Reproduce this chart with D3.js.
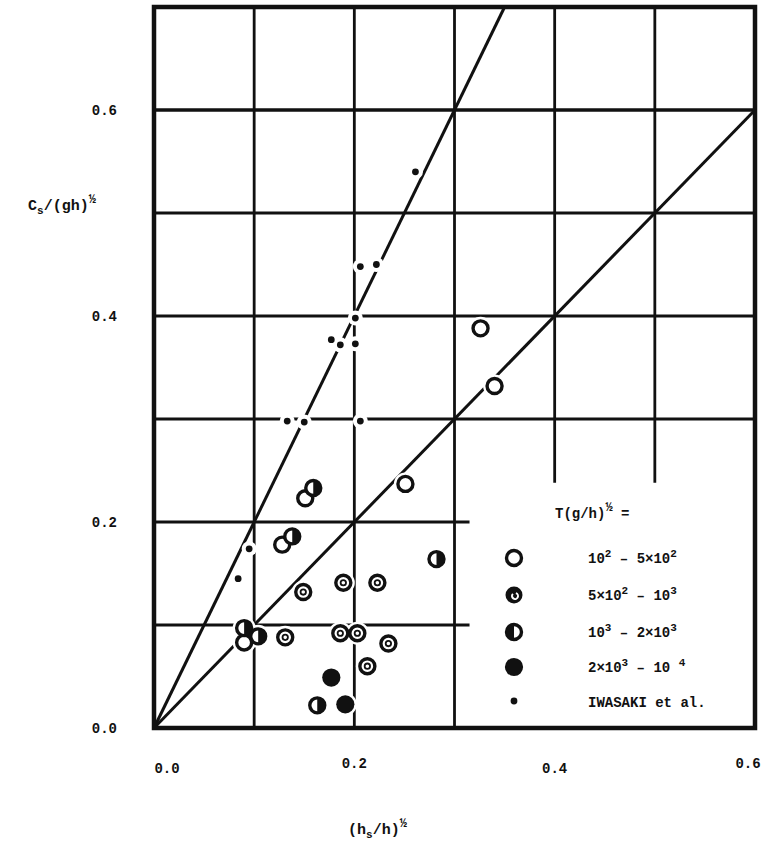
<!DOCTYPE html>
<html lang="en">
<head>
<meta charset="UTF-8">
<title>Cs/(gh)^1/2 vs (hs/h)^1/2</title>
<script src="https://d3js.org/d3.v7.min.js"></script>
<style>
  body { margin: 0; background: #fff; }
  svg { display: block; }
  text { font-family: 'Liberation Mono', 'DejaVu Sans Mono', monospace; font-weight: bold; fill: #111; }
</style>
</head>
<body>
<svg id="chart" width="775" height="854"></svg>
<script>
// --- data ---
const openX = [0.326, 0.340, 0.251, 0.151, 0.128, 0.090];
const openY = [0.388, 0.332, 0.237, 0.223, 0.178, 0.083];

const ringX = [0.149, 0.189, 0.223, 0.131, 0.186, 0.203, 0.234, 0.213];
const ringY = [0.132, 0.141, 0.141, 0.088, 0.092, 0.092, 0.082, 0.060];

const halfX = [0.282, 0.159, 0.138, 0.090, 0.104, 0.163];
const halfY = [0.164, 0.233, 0.186, 0.097, 0.089, 0.022];

const fullX = [0.177, 0.191];
const fullY = [0.049, 0.023];

const iwasakiX = [0.261, 0.206, 0.222, 0.201, 0.177, 0.186, 0.201, 0.133, 0.150, 0.206, 0.095, 0.084];
const iwasakiY = [0.540, 0.448, 0.450, 0.398, 0.377, 0.372, 0.373, 0.298, 0.297, 0.298, 0.174, 0.145];

// reference lines Cs/(gh)^1/2 = k (hs/h)^1/2
const lineSlopes = [2, 1];

const xTicks = [0, 0.2, 0.4, 0.6];
const yTicks = [0, 0.2, 0.4, 0.6];
const gridX = [0.1, 0.2, 0.3, 0.4, 0.5];
const gridY = [0.1, 0.2, 0.3, 0.4, 0.5, 0.6];

const legendLabels = [
  [["10", 0], ["2", 1], [" – 5×10", 0], ["2", 1]],
  [["5×10", 0], ["2", 1], [" – 10", 0], ["3", 1]],
  [["10", 0], ["3", 1], [" – 2×10", 0], ["3", 1]],
  [["2×10", 0], ["3", 1], [" – 10 ", 0], ["4", 1]],
  [["IWASAKI et al.", 0]]
];

// --- scales ---
const svg = d3.select("#chart");
const x = d3.scaleLinear().domain([0, 0.6]).range([154, 755]);
const y = d3.scaleLinear().domain([0, 0.7]).range([728, 7]);

// --- grid ---
const grid = svg.append("g").attr("stroke", "#111").attr("stroke-width", 2.8);
gridX.forEach(v => {
  const yEnd = v >= 0.35 ? 0.238 : 0;
  grid.append("line").attr("x1", x(v)).attr("x2", x(v)).attr("y1", y(0.7)).attr("y2", y(yEnd));
});
gridY.forEach(v => {
  const xEnd = v <= 0.25 ? 0.315 : 0.6;
  grid.append("line").attr("x1", x(0)).attr("x2", x(xEnd)).attr("y1", y(v)).attr("y2", y(v))
    .attr("stroke-width", v === 0.6 ? 3.4 : 2.8);
});

// --- reference lines ---
lineSlopes.forEach(k => {
  const xe = Math.min(0.6, 0.7 / k);
  svg.append("line")
    .attr("x1", x(0)).attr("y1", y(0))
    .attr("x2", x(xe)).attr("y2", y(k * xe))
    .attr("stroke", "#111").attr("stroke-width", 3);
});

// --- frame ---
svg.append("rect")
  .attr("x", x(0)).attr("y", y(0.7))
  .attr("width", x(0.6) - x(0)).attr("height", y(0) - y(0.7))
  .attr("fill", "none").attr("stroke", "#111").attr("stroke-width", 4.5);

// --- markers ---
const marks = svg.append("g");
const R = 7.5;

function halo(cx, cy, r) {
  marks.append("circle").attr("cx", cx).attr("cy", cy).attr("r", r).attr("fill", "#fff");
}
function openMark(g, cx, cy) {
  g.append("circle").attr("cx", cx).attr("cy", cy).attr("r", R)
    .attr("fill", "#fff").attr("stroke", "#111").attr("stroke-width", 3.4);
}
function ringMark(g, cx, cy) {
  openMark(g, cx, cy);
  g.append("circle").attr("cx", cx).attr("cy", cy).attr("r", 2.7)
    .attr("fill", "none").attr("stroke", "#111").attr("stroke-width", 1.8);
}
function halfMark(g, cx, cy, side) {
  openMark(g, cx, cy);
  const s = side === "left" ? 0 : 1;
  g.append("path")
    .attr("d", `M${cx},${cy - R} A${R},${R} 0 0 ${s} ${cx},${cy + R} Z`)
    .attr("fill", "#111");
}
function fullMark(g, cx, cy) {
  g.append("circle").attr("cx", cx).attr("cy", cy).attr("r", R + 1.6).attr("fill", "#111");
}
function dotMark(g, cx, cy) {
  g.append("circle").attr("cx", cx).attr("cy", cy).attr("r", 3.4).attr("fill", "#111");
}

// white halos break the lines around each point, as in the original drawing
openX.forEach((v, i) => halo(x(v), y(openY[i]), R + 4));
ringX.forEach((v, i) => halo(x(v), y(ringY[i]), R + 4));
halfX.forEach((v, i) => halo(x(v), y(halfY[i]), R + 4));
fullX.forEach((v, i) => halo(x(v), y(fullY[i]), R + 4));
iwasakiX.forEach((v, i) => halo(x(v), y(iwasakiY[i]), 7.5));

openX.forEach((v, i) => openMark(marks, x(v), y(openY[i])));
ringX.forEach((v, i) => ringMark(marks, x(v), y(ringY[i])));
halfX.forEach((v, i) => halfMark(marks, x(v), y(halfY[i]), "right"));
fullX.forEach((v, i) => fullMark(marks, x(v), y(fullY[i])));
iwasakiX.forEach((v, i) => dotMark(marks, x(v), y(iwasakiY[i])));

// --- axes labels ---
const yAxis = svg.append("g").attr("font-size", 14);
yTicks.forEach(t => {
  yAxis.append("text").attr("x", 117).attr("y", y(t) + 5)
    .attr("text-anchor", "end").text(t.toFixed(1));
});
const xAxis = svg.append("g").attr("font-size", 14);
xTicks.forEach((t, i) => {
  const dx = i === 0 ? 13 : (i === xTicks.length - 1 ? -7 : 0);
  xAxis.append("text").attr("x", x(t) + dx).attr("y", i % 2 === 0 ? 773 : 768)
    .attr("text-anchor", "middle").text(t.toFixed(1));
});

// y title: Cs/(gh)^1/2
const yt = svg.append("text").attr("x", 28).attr("y", 210).attr("font-size", 15);
yt.append("tspan").text("C");
yt.append("tspan").attr("font-size", 11).attr("dy", 4).text("s");
yt.append("tspan").attr("dy", -4).text("/(gh)");
yt.append("tspan").attr("font-size", 12).attr("dy", -7).text("½");

// x title: (hs/h)^1/2
const xt = svg.append("text").attr("x", 348).attr("y", 834).attr("font-size", 15);
xt.append("tspan").text("(h");
xt.append("tspan").attr("font-size", 11).attr("dy", 4).text("s");
xt.append("tspan").attr("dy", -4).text("/h)");
xt.append("tspan").attr("font-size", 12).attr("dy", -7).text("½");

// --- legend ---
const lg = svg.append("g");
const lh = lg.append("text").attr("x", 555).attr("y", 518).attr("font-size", 14);
lh.append("tspan").text("T(g/h)");
lh.append("tspan").attr("font-size", 12).attr("dy", -7).text("½");
lh.append("tspan").attr("dy", 7).text(" =");

const rowY = [558, 595, 632, 667, 702];
const legendDraw = [
  (cx, cy) => openMark(lg, cx, cy),
  (cx, cy) => {
    lg.append("circle").attr("cx", cx).attr("cy", cy).attr("r", R + 1).attr("fill", "#111");
    lg.append("path").attr("d", d3.arc()({ innerRadius: 2, outerRadius: 4, startAngle: 0.3, endAngle: Math.PI * 1.75 }))
      .attr("transform", `translate(${cx + 1},${cy + 1})`).attr("fill", "#fff");
  },
  (cx, cy) => halfMark(lg, cx, cy, "left"),
  (cx, cy) => fullMark(lg, cx, cy),
  (cx, cy) => dotMark(lg, cx, cy - 1)
];
legendLabels.forEach((parts, i) => {
  legendDraw[i](514, rowY[i]);
  const t = lg.append("text").attr("x", 588).attr("y", rowY[i] + 5).attr("font-size", 14)
    .attr("font-weight", i === 4 ? "bold" : "normal");
  let sup = 0;
  parts.forEach(([s, p]) => {
    const dy = p === sup ? 0 : (p ? -6 : 6);
    t.append("tspan").attr("dy", dy).attr("font-size", p ? 11 : 14).text(s);
    sup = p;
  });
});
</script>
</body>
</html>
